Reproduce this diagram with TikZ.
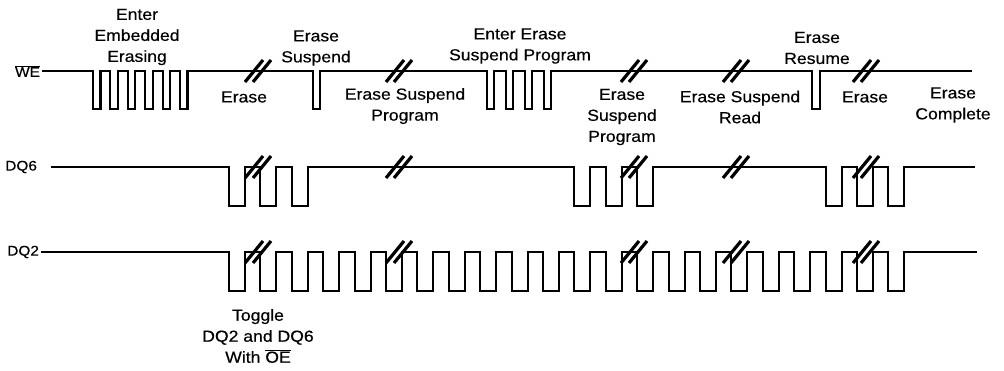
\documentclass[tikz,border=0pt]{standalone}
\usepackage{fontspec}
\setmainfont{Liberation Sans}[FakeStretch=1.1,FakeBold=0.4]
\begin{document}
\begin{tikzpicture}[x=1pt, y=-1pt, line width=2.1pt,
  lbl/.style={align=center, inner sep=0pt, font=\fontsize{16}{21}\selectfont},
  sig/.style={anchor=east, inner sep=1pt, font=\fontsize{14}{17}\selectfont},
  brk/.style={line width=3.2pt}]
  \useasboundingbox (0,0) rectangle (1004,370);
  % signal names
  \node[sig] (we) at (42,71) {$\overline{\mbox{WE}}$};
  \node[sig] (dq6) at (39,167) {DQ6};
  \node[sig] (dq2) at (41,252) {DQ2};
  % labels above WE
  \node[lbl] (enter) at (137,37) {Enter\\Embedded\\Erasing};
  \node[lbl] (susp) at (316,48) {Erase\\Suspend};
  \node[lbl] (enterprog) at (520,46) {Enter Erase\\Suspend Program};
  \node[lbl] (resume) at (817,48) {Erase\\Resume};
  % labels below WE
  \node[lbl] (erasea) at (244,97) {Erase};
  \node[lbl] (proga) at (405,106) {Erase Suspend\\Program};
  \node[lbl] (progb) at (622,117) {Erase\\Suspend\\Program};
  \node[lbl] (read) at (740,107) {Erase Suspend\\Read};
  \node[lbl] (eraseb) at (865,97) {Erase};
  \node[lbl] (done) at (953,105) {Erase\\Complete};
  \node[lbl] (toggle) at (258,336) {Toggle\\DQ2 and DQ6\\With $\overline{\mbox{OE}}$};
  % waveforms
  \draw (we.east) foreach \k in {0,...,5} { -- ({93+17.4*\k},71) -- ++(0,38) -- ++(7.5,0) -- ++(0,-38) }
    -- (313,71) -- ++(0,38) -- ++(7,0) -- ++(0,-38)
    foreach \k in {0,...,3} { -- ({487+19*\k},71) -- ++(0,38) -- ++(7,0) -- ++(0,-38) }
    -- (812,71) -- ++(0,38) -- ++(8,0) -- ++(0,-38) -- (972,71);
  \draw ([xshift=12pt]dq6.east) foreach \k in {0,1,2,11,12,13,19,20,21} { -- ({229+31.4*\k},167) -- ++(0,39) -- ++(16,0) -- ++(0,-39) }
    -- (975,167);
  \draw (dq2.east) foreach \k in {0,...,21} { -- ({229+31.4*\k},252) -- ++(0,39) -- ++(16,0) -- ++(0,-39) }
    -- (977,252);
  % breaks
  \foreach \x in {258,399,634,736,866}
    \foreach \y in {71,167,252} {
      \draw[brk] (\x-13,\y+11) -- (\x+5,\y-11);
      \draw[brk] (\x-5,\y+11) -- (\x+13,\y-11);
    }
\end{tikzpicture}
\end{document}
